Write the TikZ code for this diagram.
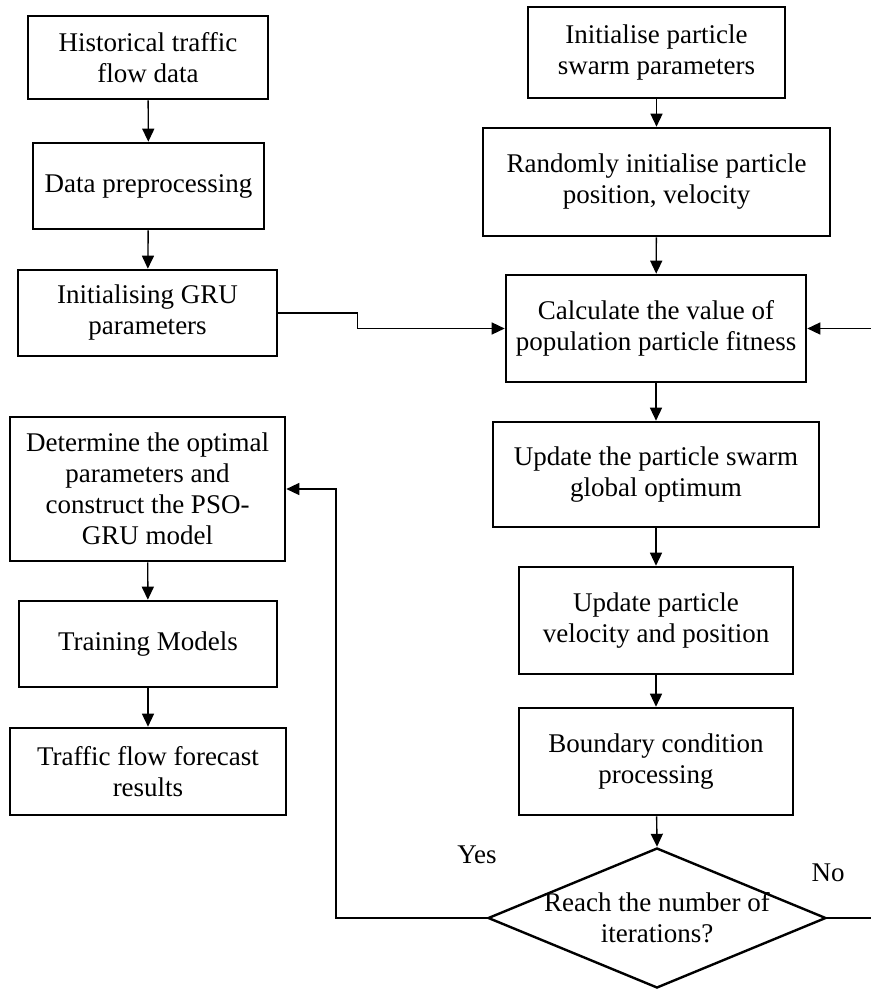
\documentclass[tikz,border=0pt]{standalone}
\usepackage{fontspec}
\setmainfont{Liberation Serif}
\usetikzlibrary{arrows.meta,shapes.geometric}
\tikzset{%
  flowbox/.style={draw, line width=2.6pt, rectangle, align=center, inner sep=0pt, font=\fontsize{27pt}{31pt}\selectfont},%
  decision/.style={draw, line width=2.4pt, diamond, inner sep=0pt},%
  flowline/.style={line width=1.4pt, -{Triangle[length=13pt,width=12pt]}},%
  branchlabel/.style={font=\fontsize{27pt}{31pt}\selectfont}%
}

\begin{document}
\begin{tikzpicture}[x=1pt, y=-1pt]%
\useasboundingbox (0,0) rectangle (870,990);%
% left column
\node[flowbox, minimum width=240, minimum height=83] (hist) at (148, 57.5) {Historical traffic\\flow data};%
\node[flowbox, minimum width=231, minimum height=86] (prep) at (148.5, 186) {Data preprocessing};%
\node[flowbox, minimum width=259, minimum height=86] (grupar) at (147.5, 313) {Initialising GRU\\parameters};%
\node[flowbox, minimum width=275, minimum height=144] (optimal) at (147.5, 489) {Determine the optimal\\parameters and\\construct the PSO-\\GRU model};%
\node[flowbox, minimum width=258, minimum height=86] (train) at (148, 644) {Training Models};%
\node[flowbox, minimum width=276, minimum height=87] (result) at (148, 771.5) {Traffic flow forecast\\results};%
% right column
\node[flowbox, minimum width=257, minimum height=91] (psoinit) at (656.5, 52.5) {Initialise particle\\swarm parameters};%
\node[flowbox, minimum width=347, minimum height=108] (randinit) at (656.5, 182) {Randomly initialise particle\\position, velocity};%
\node[flowbox, minimum width=300, minimum height=107] (calc) at (656, 328.5) {Calculate the value of\\population particle fitness};%
\node[flowbox, minimum width=326, minimum height=105] (gbest) at (656, 474.5) {Update the particle swarm\\global optimum};%
\node[flowbox, minimum width=274, minimum height=107] (velpos) at (656, 620.5) {Update particle\\velocity and position};%
\node[flowbox, minimum width=274, minimum height=107] (bound) at (656, 761.5) {Boundary condition\\processing};%
\node[decision, minimum width=338, minimum height=140] (reach) at (657, 918) {};%
\node[branchlabel, align=center] (reachtext) at (reach.center) {Reach the number of\\iterations?};%
\node[branchlabel] (yes) at (477, 855) {Yes};%
\node[branchlabel] (no) at (828, 873) {No};%
% connectors
\draw[flowline] (hist) -- (prep);%
\draw[flowline] (prep) -- (grupar);%
\draw[flowline] (optimal) -- (train);%
\draw[flowline] (train) -- (result);%
\draw[flowline] (psoinit) -- (randinit);%
\draw[flowline] (randinit) -- (calc);%
\draw[flowline] (calc) -- (gbest);%
\draw[flowline] (gbest) -- (velpos);%
\draw[flowline] (velpos) -- (bound);%
\draw[flowline] (bound) -- (reach.north);%
\draw[flowline] (grupar.east) -- ++(79,0) |- (calc.west);%
\draw[flowline] (reach.west) -- ++(-151,0) |- (optimal.east);%
\draw[flowline] (reach.east) -- ++(47,0) |- (calc.east);%
\end{tikzpicture}
\end{document}
